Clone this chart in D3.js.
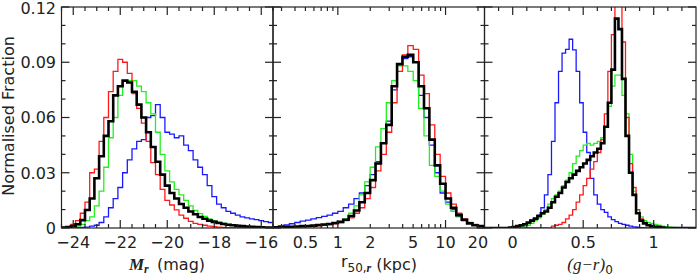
<!DOCTYPE html>
<html>
<head>
<meta charset="utf-8">
<script src="https://cdn.jsdelivr.net/npm/d3@7"></script>
<style>
  body { margin: 0; background: #fff; }
  svg text { font-family: "DejaVu Sans", sans-serif; fill: #222; }
</style>
</head>
<body>
<svg id="chart" width="697" height="278"></svg>
<script>
// ---- bins ----
const magStart = -24.5, magStep = 0.2;      // 45 bins
const sizeLogStart = -0.6, sizeLogStep = 0.05; // 40 bins (log10 kpc)
const colStart = -0.2, colStep = 0.025;     // 60 bins

// ---- panel 1 : M_r ----
const magBlack = [0.0002,0.0005,0.001,0.002,0.0043,0.0098,0.016,0.027,0.039,0.050,0.058,0.072,0.077,0.080,0.079,0.074,0.067,0.060,0.052,0.044,0.036,0.029,0.023,0.019,0.016,0.013,0.011,0.009,0.0075,0.006,0.005,0.004,0.0033,0.0027,0.0022,0.0018,0.0015,0.0012,0.001,0.0008,0.0006,0.0005,0.0004,0.0003,0.0002];
const magRed = [0.0003,0.0008,0.002,0.004,0.008,0.014,0.030,0.032,0.047,0.060,0.074,0.085,0.0916,0.090,0.084,0.073,0.065,0.057,0.047,0.0355,0.029,0.021,0.015,0.0125,0.0098,0.007,0.0053,0.0036,0.0025,0.002,0.0015,0.001,0.0007,0.0005,0.0003,0.0002,0.0002,0.0001,0.0001,0,0,0,0,0,0];
const magGreen = [0.0001,0.0002,0.0004,0.001,0.002,0.004,0.006,0.012,0.020,0.033,0.049,0.060,0.072,0.080,0.080,0.080,0.077,0.074,0.068,0.062,0.052,0.040,0.031,0.025,0.021,0.018,0.015,0.012,0.0095,0.0078,0.0063,0.005,0.004,0.0032,0.0026,0.002,0.0016,0.0012,0.001,0.0008,0.0006,0.0005,0.0004,0.0003,0.0002];
const magBlue = [0,0,0.0001,0.0002,0.0003,0.0005,0.001,0.0015,0.003,0.006,0.011,0.016,0.022,0.030,0.037,0.043,0.047,0.048,0.060,0.061,0.067,0.060,0.052,0.051,0.049,0.050,0.045,0.042,0.037,0.033,0.029,0.023,0.017,0.013,0.011,0.009,0.008,0.007,0.006,0.0055,0.005,0.0045,0.004,0.0035,0.003];

// ---- panel 2 : r50,r ----
const sizeBlack = [0.0004,0.0005,0.0006,0.0007,0.0008,0.001,0.0011,0.0013,0.0016,0.0019,0.0022,0.0027,0.0033,0.0045,0.0065,0.0095,0.014,0.019,0.026,0.035,0.046,0.056,0.077,0.089,0.093,0.094,0.090,0.077,0.065,0.048,0.034,0.024,0.016,0.011,0.007,0.0045,0.0025,0.0015,0.001,0.0005];
const sizeRed = [0.0002,0.0003,0.0004,0.0005,0.0006,0.0007,0.0008,0.001,0.0012,0.0015,0.0018,0.0022,0.003,0.004,0.0055,0.008,0.011,0.016,0.022,0.031,0.040,0.052,0.068,0.085,0.094,0.099,0.097,0.083,0.073,0.056,0.040,0.028,0.019,0.013,0.008,0.005,0.003,0.002,0.001,0.0005];
const sizeGreen = [0.0003,0.0004,0.0005,0.0006,0.0007,0.0008,0.001,0.0012,0.0014,0.0017,0.002,0.0025,0.0035,0.005,0.008,0.012,0.018,0.025,0.033,0.044,0.054,0.068,0.080,0.088,0.088,0.085,0.080,0.065,0.050,0.034,0.028,0.020,0.013,0.009,0.006,0.004,0.0025,0.0015,0.001,0.0005];
const sizeBlue = [0.0008,0.0012,0.0017,0.0023,0.003,0.0037,0.0043,0.005,0.0056,0.0063,0.007,0.008,0.009,0.011,0.013,0.016,0.019,0.023,0.029,0.036,0.046,0.058,0.075,0.089,0.092,0.093,0.090,0.072,0.060,0.045,0.030,0.019,0.014,0.010,0.0065,0.004,0.0025,0.0015,0.001,0.0005];

// ---- panel 3 : (g-r)0 ----
const colBlack = [0,0,0,0,0,0,0,0.0002,0.0005,0.001,0.0015,0.002,0.003,0.004,0.005,0.0065,0.008,0.009,0.011,0.014,0.017,0.019,0.022,0.025,0.027,0.029,0.031,0.033,0.035,0.037,0.039,0.041,0.043,0.046,0.055,0.068,0.086,0.1137,0.108,0.081,0.050,0.030,0.018,0.008,0.004,0.0025,0.0015,0.001,0.0007,0.0005,0.0003,0,0,0,0,0,0,0,0,0];
const colRed = [0,0,0,0,0,0,0,0,0,0,0,0,0,0,0,0,0,0,0,0.001,0.0015,0.002,0.003,0.005,0.007,0.010,0.014,0.018,0.023,0.027,0.032,0.036,0.041,0.048,0.062,0.085,0.105,0.130,0.130,0.101,0.060,0.035,0.022,0.010,0.005,0.003,0.0018,0.001,0.0006,0.0003,0,0,0,0,0,0,0,0,0,0];
const colGreen = [0,0,0,0,0,0,0,0,0,0,0.0008,0.001,0.0015,0.0025,0.004,0.0055,0.0075,0.010,0.013,0.016,0.018,0.020,0.023,0.026,0.030,0.035,0.039,0.042,0.045,0.046,0.045,0.046,0.047,0.049,0.055,0.066,0.077,0.083,0.083,0.072,0.062,0.040,0.020,0.010,0.006,0.004,0.003,0.0025,0.002,0.0015,0.001,0.0008,0.0005,0.0003,0,0,0,0,0,0];
const colBlue = [0,0,0,0,0,0,0,0.0002,0.0004,0.0007,0.0012,0.0018,0.0026,0.0043,0.0055,0.007,0.011,0.018,0.029,0.047,0.068,0.085,0.095,0.097,0.1025,0.0967,0.085,0.068,0.052,0.041,0.027,0.018,0.013,0.010,0.0085,0.006,0.0045,0.0035,0.0025,0.002,0.0015,0.001,0.0006,0.0004,0.0002,0,0,0,0,0,0,0,0,0,0,0,0,0,0,0];

// ---- ticks ----
const yMajor = [0, 0.03, 0.06, 0.09, 0.12];
const yMinor = [0.01, 0.02, 0.04, 0.05, 0.07, 0.08, 0.10, 0.11];
const yLabels = ["0", "0.03", "0.06", "0.09", "0.12"];
const magMajor = [-24, -22, -20, -18, -16];
const magMinor = [-24.5, -23.5, -23, -22.5, -21.5, -21, -20.5, -19.5, -19, -18.5, -17.5, -17, -16.5, -15.5];
const magLabels = ["\u221224", "\u221222", "\u221220", "\u221218", "\u221216"];
const sizeMajor = [1, 10];
const sizeMinor = [0.3, 0.4, 0.5, 0.6, 0.7, 0.8, 0.9, 2, 3, 4, 5, 6, 7, 8, 9, 20];
const sizeTickVals = [0.5, 1, 2, 5, 10, 20];
const sizeLabels = ["0.5", "1", "2", "5", "10", "20"];
const colMajor = [0, 0.5, 1];
const colMinor = [-0.1, 0.1, 0.2, 0.3, 0.4, 0.6, 0.7, 0.8, 0.9, 1.1, 1.2];
const colLabels = ["0", "0.5", "1"];

const colors = { blue: "#1a1aff", green: "#22ee22", red: "#ff1a1a", black: "#000" };

// ---- layout ----
const svg = d3.select("#chart");
const plotTop = 7, plotBottom = 228;
const y = d3.scaleLinear().domain([0, 0.12]).range([plotBottom, plotTop]);

const panels = [
  {
    x: d3.scaleLinear().domain([-24.5, -15.5]).range([61.5, 273]),
    edge: i => magStart + i * magStep,
    series: [["blue", magBlue], ["green", magGreen], ["red", magRed], ["black", magBlack]],
    major: magMajor, minor: magMinor, tickVals: magMajor, labels: magLabels
  },
  {
    x: d3.scaleLog().domain([0.25, 23]).range([273, 484.5]),
    edge: i => Math.pow(10, sizeLogStart + i * sizeLogStep),
    series: [["blue", sizeBlue], ["green", sizeGreen], ["red", sizeRed], ["black", sizeBlack]],
    major: sizeMajor, minor: sizeMinor, tickVals: sizeTickVals, labels: sizeLabels
  },
  {
    x: d3.scaleLinear().domain([-0.2, 1.3]).range([484.5, 696]),
    edge: i => colStart + i * colStep,
    series: [["blue", colBlue], ["green", colGreen], ["red", colRed], ["black", colBlack]],
    major: colMajor, minor: colMinor, tickVals: colMajor, labels: colLabels
  }
];

const defs = svg.append("defs");
const line = d3.line();

panels.forEach((p, pi) => {
  const [x0, x1] = p.x.range();
  defs.append("clipPath").attr("id", "clip" + pi)
    .append("rect").attr("x", x0).attr("y", plotTop).attr("width", x1 - x0).attr("height", plotBottom - plotTop);

  const g = svg.append("g").attr("clip-path", `url(#clip${pi})`);
  p.series.forEach(([name, vals]) => {
    const pts = [];
    vals.forEach((v, i) => {
      pts.push([p.x(p.edge(i)), y(v)]);
      pts.push([p.x(p.edge(i + 1)), y(v)]);
    });
    g.append("path")
      .attr("d", line(pts))
      .attr("fill", "none")
      .attr("stroke", colors[name])
      .attr("stroke-width", name === "black" ? 2.6 : 1.3)
      .attr("stroke-linejoin", "miter");
  });

  // frame
  const ax = svg.append("g").attr("stroke", "#222").attr("stroke-width", 1.2).attr("fill", "none");
  ax.append("rect").attr("x", x0).attr("y", plotTop).attr("width", x1 - x0).attr("height", plotBottom - plotTop);

  // x ticks (bottom and top, inward)
  const xt = (vals, len) => vals.forEach(v => {
    const xx = p.x(v);
    ax.append("line").attr("x1", xx).attr("x2", xx).attr("y1", plotBottom).attr("y2", plotBottom - len);
    ax.append("line").attr("x1", xx).attr("x2", xx).attr("y1", plotTop).attr("y2", plotTop + len);
  });
  xt(p.major, 8);
  xt(p.minor, 4);

  // y ticks (left and right, inward)
  const yt = (vals, len) => vals.forEach(v => {
    const yy = y(v);
    ax.append("line").attr("x1", x0).attr("x2", x0 + len).attr("y1", yy).attr("y2", yy);
    ax.append("line").attr("x1", x1).attr("x2", x1 - len).attr("y1", yy).attr("y2", yy);
  });
  yt(yMajor, 8);
  yt(yMinor, 4);

  // x tick labels
  svg.append("g").selectAll("text").data(p.tickVals).join("text")
    .attr("x", d => p.x(d))
    .attr("y", 248)
    .attr("text-anchor", "middle")
    .attr("font-size", 16)
    .text((d, i) => p.labels[i]);
});

// y tick labels
svg.append("g").selectAll("text").data(yMajor).join("text")
  .attr("x", 56)
  .attr("y", d => Math.max(y(d), 8.5))
  .attr("dy", "0.36em")
  .attr("text-anchor", "end")
  .attr("font-size", 16)
  .text((d, i) => yLabels[i]);

// y axis title
svg.append("text")
  .attr("transform", "translate(13.5,116) rotate(-90)")
  .attr("text-anchor", "middle")
  .attr("font-size", 16)
  .text("Normalised Fraction");

// x axis titles
const serif = "'Liberation Serif', 'DejaVu Serif', serif";
const tY = 270;
const t1 = svg.append("text").attr("x", 167).attr("y", tY).attr("text-anchor", "middle").attr("font-size", 16);
t1.append("tspan").attr("font-family", serif).attr("font-style", "italic").attr("font-weight", "bold").attr("font-size", 17).text("M");
t1.append("tspan").attr("font-family", serif).attr("font-style", "italic").attr("font-weight", "bold").attr("font-size", 12).attr("dy", 3).text("r");
t1.append("tspan").attr("dy", -3).text("\u2009 (mag)");

const t2 = svg.append("text").attr("x", 379).attr("y", tY - 3).attr("text-anchor", "middle").attr("font-size", 16);
t2.append("tspan").text("r");
t2.append("tspan").attr("font-size", 12).attr("dy", 5).text("50,");
t2.append("tspan").attr("font-family", serif).attr("font-style", "italic").attr("font-weight", "bold").attr("font-size", 12).text("r");
t2.append("tspan").attr("dy", -2).text(" (kpc)");

const t3 = svg.append("text").attr("x", 590).attr("y", tY).attr("text-anchor", "middle").attr("font-size", 16);
t3.append("tspan").attr("font-family", serif).attr("font-style", "italic").attr("font-size", 17).text("(g\u2212r)");
t3.append("tspan").attr("font-size", 12).attr("dy", 4).text("0");
</script>
</body>
</html>
